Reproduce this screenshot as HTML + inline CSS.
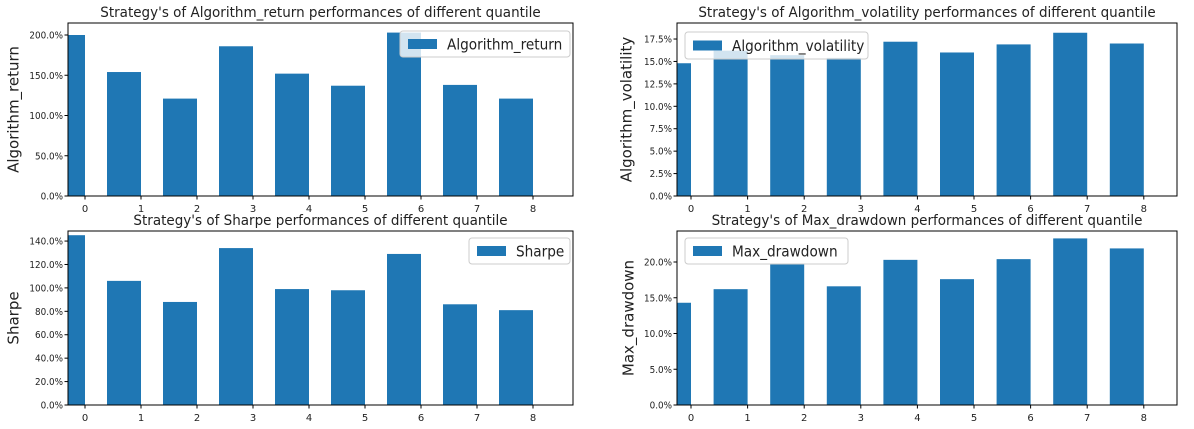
<!DOCTYPE html>
<html><head><meta charset="utf-8"><style>
html,body{margin:0;padding:0;background:#fff;width:1194px;height:429px;overflow:hidden}
svg text{font-family:"DejaVu Sans","Liberation Sans",sans-serif;fill:#222}
</style></head><body>
<svg id="s" width="1194" height="429" xmlns="http://www.w3.org/2000/svg"></svg>
<script>
const P=[
 {x0:68,x1:573,y0:23,y1:196,t0:85,sp:56,k:0.805,ticks:[0,50,100,150,200],
  vals:[200,154,121,186,152,137,203,138,121],name:"Algorithm_return",
  title:"Strategy's of Algorithm_return performances of different quantile",ylx:14,
  lg:[400,31,170,26]},
 {x0:677,x1:1177,y0:23,y1:196,t0:691,sp:56.6,k:8.97,ticks:[0,2.5,5,7.5,10,12.5,15,17.5],
  vals:[14.8,16.2,15.7,15.4,17.2,16.0,16.9,18.2,17.0],name:"Algorithm_volatility",
  title:"Strategy's of Algorithm_volatility performances of different quantile",ylx:627,
  lg:[685,32,183,27]},
 {x0:68,x1:573,y0:231,y1:405,t0:85,sp:56,k:1.171,ticks:[0,20,40,60,80,100,120,140],
  vals:[145,106,88,134,99,98,129,86,81],name:"Sharpe",
  title:"Strategy's of Sharpe performances of different quantile",ylx:14,
  lg:[469,238,101,26]},
 {x0:677,x1:1177,y0:231,y1:405,t0:691,sp:56.6,k:7.15,ticks:[0,5,10,15,20],
  vals:[14.3,16.2,19.8,16.6,20.3,17.6,20.4,23.3,21.9],name:"Max_drawdown",
  title:"Strategy's of Max_drawdown performances of different quantile",ylx:629,
  lg:[685,238,163,26]}
];
let h='';
P.forEach((p,i)=>{
 h+=`<clipPath id="c${i}"><rect x="${p.x0}" y="${p.y0}" width="${p.x1-p.x0}" height="${p.y1-p.y0}"/></clipPath>`;
 h+=`<g clip-path="url(#c${i})">`;
 p.vals.forEach((v,j)=>{const tx=p.t0+j*p.sp;const hh=v*p.k;
  h+=`<rect x="${tx-34}" y="${p.y1-hh}" width="34" height="${hh}" fill="#1f77b4"/>`;});
 h+='</g>';
 h+=`<rect x="${p.x0}" y="${p.y0}" width="${p.x1-p.x0}" height="${p.y1-p.y0}" fill="none" stroke="#000" stroke-width="1"/>`;
 for(let j=0;j<9;j++){const tx=p.t0+j*p.sp;
  h+=`<line x1="${tx}" y1="${p.y1}" x2="${tx}" y2="${p.y1+3.5}" stroke="#000"/>`;
  h+=`<text x="${tx}" y="${p.y1+16}" font-size="10" text-anchor="middle">${j}</text>`;}
 p.ticks.forEach(t=>{const y=p.y1-t*p.k;
  h+=`<line x1="${p.x0-3.5}" y1="${y}" x2="${p.x0}" y2="${y}" stroke="#000"/>`;
  h+=`<text x="${p.x0-5}" y="${y+3.5}" font-size="10" text-anchor="end" textLength="${(t.toFixed(1)+'%').length*5.6}" lengthAdjust="spacingAndGlyphs">${t.toFixed(1)}%</text>`;});
 const cx=(p.x0+p.x1)/2;
 h+=`<text x="0" y="0" font-size="14" text-anchor="middle" transform="translate(${cx} ${p.y0-6}) scale(0.965 1)">${p.title}</text>`;
 const cy=(p.y0+p.y1)/2;
 h+=`<text x="${p.ylx}" y="${cy}" font-size="15" text-anchor="middle" dominant-baseline="middle" transform="rotate(-90 ${p.ylx} ${cy})">${p.name}</text>`;
 const [lx,ly,lw,lh]=p.lg;
 h+=`<rect x="${lx}" y="${ly}" width="${lw}" height="${lh}" rx="3" fill="#fff" fill-opacity="0.8" stroke="#ccc"/>`;
 h+=`<rect x="${lx+8}" y="${ly+lh/2-5}" width="29" height="10" fill="#1f77b4"/>`;
 h+=`<text x="0" y="0" font-size="15" transform="translate(${lx+47} ${ly+lh/2+5.5}) scale(0.91 1)">${p.name}</text>`;
});
document.getElementById('s').innerHTML=h;
</script>
</body></html>
